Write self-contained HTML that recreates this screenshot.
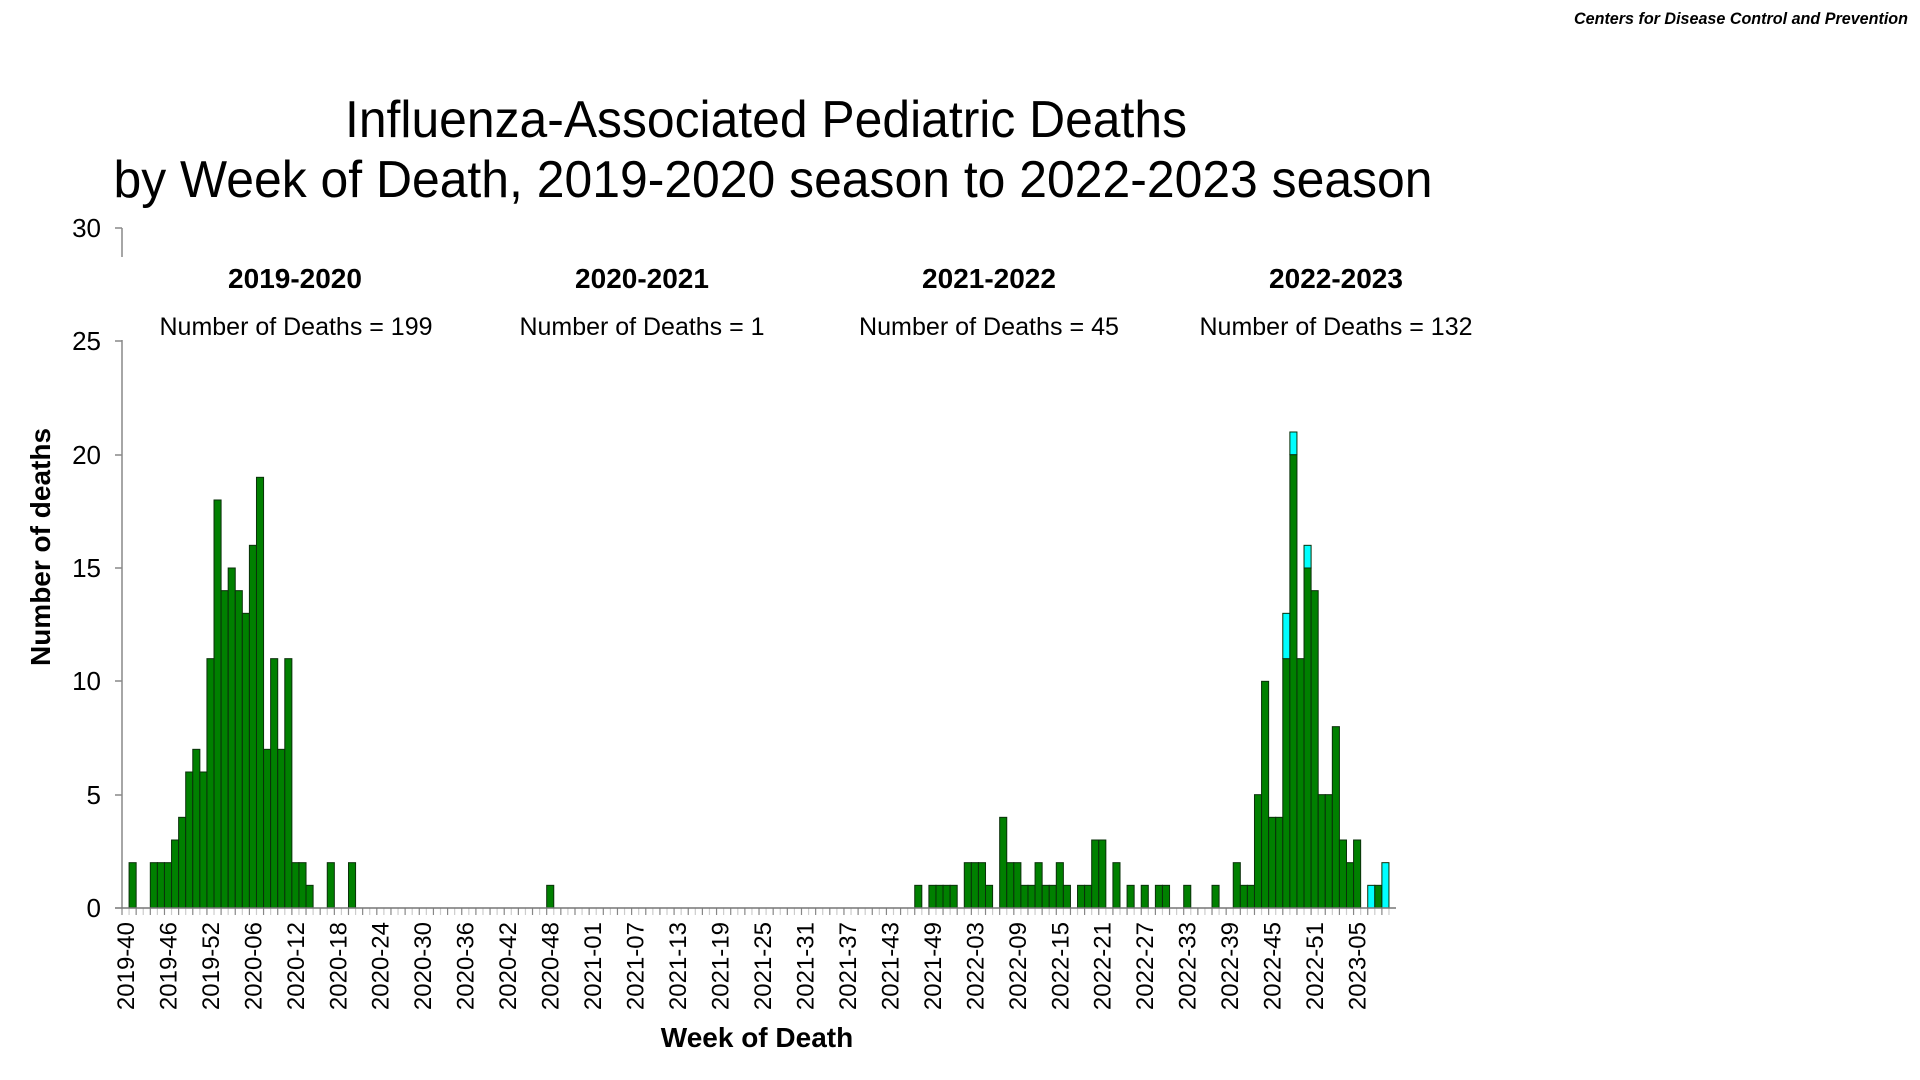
<!DOCTYPE html>
<html><head><meta charset="utf-8"><style>
html,body{margin:0;padding:0;background:#fff;}
svg{display:block;font-family:"Liberation Sans",Arial,sans-serif;}
</style></head><body>
<svg id="s" width="1920" height="1080" viewBox="0 0 1920 1080" xmlns="http://www.w3.org/2000/svg">
<rect width="1920" height="1080" fill="#fff"/>
<text x="1908" y="24" text-anchor="end" font-size="17" font-weight="bold" font-style="italic" textLength="334" lengthAdjust="spacingAndGlyphs">Centers for Disease Control and Prevention</text>
<text x="766" y="137" text-anchor="middle" font-size="52" textLength="842" lengthAdjust="spacingAndGlyphs">Influenza-Associated Pediatric Deaths</text>
<text x="773" y="197" text-anchor="middle" font-size="52" textLength="1319" lengthAdjust="spacingAndGlyphs">by Week of Death, 2019-2020 season to 2022-2023 season</text>
<g font-size="28" font-weight="bold" text-anchor="middle">
<text x="295" y="288">2019-2020</text>
<text x="642" y="288">2020-2021</text>
<text x="989" y="288">2021-2022</text>
<text x="1336" y="288">2022-2023</text>
</g>
<g font-size="25" text-anchor="middle">
<text x="296" y="335" textLength="273" lengthAdjust="spacingAndGlyphs">Number of Deaths = 199</text>
<text x="642" y="335" textLength="245" lengthAdjust="spacingAndGlyphs">Number of Deaths = 1</text>
<text x="989" y="335" textLength="260" lengthAdjust="spacingAndGlyphs">Number of Deaths = 45</text>
<text x="1336" y="335" textLength="273" lengthAdjust="spacingAndGlyphs">Number of Deaths = 132</text>
</g>
<g font-size="26" text-anchor="end">
<text x="101" y="237">30</text>
<text x="101" y="350">25</text>
<text x="101" y="464">20</text>
<text x="101" y="577">15</text>
<text x="101" y="690">10</text>
<text x="101" y="804">5</text>
<text x="101" y="917">0</text>
</g>
<g stroke="#888" stroke-width="1.5">
<line x1="122" y1="228" x2="122" y2="257"/>
<line x1="122" y1="340" x2="122" y2="908"/>
<line x1="115" y1="228" x2="122" y2="228"/>
<line x1="115" y1="341" x2="122" y2="341"/>
<line x1="115" y1="455" x2="122" y2="455"/>
<line x1="115" y1="568" x2="122" y2="568"/>
<line x1="115" y1="681" x2="122" y2="681"/>
<line x1="115" y1="795" x2="122" y2="795"/>
</g>
<g id="bars"></g>
<g id="ticks"></g>
<line x1="115" y1="908" x2="1396" y2="908" stroke="#777" stroke-width="1.5"/>
<g font-size="24" text-anchor="end">
<text transform="translate(125.5,922) rotate(-90)" dy="0.35em">2019-40</text>
<text transform="translate(168.0,922) rotate(-90)" dy="0.35em">2019-46</text>
<text transform="translate(210.5,922) rotate(-90)" dy="0.35em">2019-52</text>
<text transform="translate(252.9,922) rotate(-90)" dy="0.35em">2020-06</text>
<text transform="translate(295.4,922) rotate(-90)" dy="0.35em">2020-12</text>
<text transform="translate(337.9,922) rotate(-90)" dy="0.35em">2020-18</text>
<text transform="translate(380.3,922) rotate(-90)" dy="0.35em">2020-24</text>
<text transform="translate(422.8,922) rotate(-90)" dy="0.35em">2020-30</text>
<text transform="translate(465.3,922) rotate(-90)" dy="0.35em">2020-36</text>
<text transform="translate(507.8,922) rotate(-90)" dy="0.35em">2020-42</text>
<text transform="translate(550.2,922) rotate(-90)" dy="0.35em">2020-48</text>
<text transform="translate(592.7,922) rotate(-90)" dy="0.35em">2021-01</text>
<text transform="translate(635.2,922) rotate(-90)" dy="0.35em">2021-07</text>
<text transform="translate(677.6,922) rotate(-90)" dy="0.35em">2021-13</text>
<text transform="translate(720.1,922) rotate(-90)" dy="0.35em">2021-19</text>
<text transform="translate(762.6,922) rotate(-90)" dy="0.35em">2021-25</text>
<text transform="translate(805.0,922) rotate(-90)" dy="0.35em">2021-31</text>
<text transform="translate(847.5,922) rotate(-90)" dy="0.35em">2021-37</text>
<text transform="translate(890.0,922) rotate(-90)" dy="0.35em">2021-43</text>
<text transform="translate(932.5,922) rotate(-90)" dy="0.35em">2021-49</text>
<text transform="translate(974.9,922) rotate(-90)" dy="0.35em">2022-03</text>
<text transform="translate(1017.4,922) rotate(-90)" dy="0.35em">2022-09</text>
<text transform="translate(1059.9,922) rotate(-90)" dy="0.35em">2022-15</text>
<text transform="translate(1102.3,922) rotate(-90)" dy="0.35em">2022-21</text>
<text transform="translate(1144.8,922) rotate(-90)" dy="0.35em">2022-27</text>
<text transform="translate(1187.3,922) rotate(-90)" dy="0.35em">2022-33</text>
<text transform="translate(1229.7,922) rotate(-90)" dy="0.35em">2022-39</text>
<text transform="translate(1272.2,922) rotate(-90)" dy="0.35em">2022-45</text>
<text transform="translate(1314.7,922) rotate(-90)" dy="0.35em">2022-51</text>
<text transform="translate(1357.1,922) rotate(-90)" dy="0.35em">2023-05</text>
</g>
<text transform="translate(40,547) rotate(-90)" text-anchor="middle" dy="0.35em" font-size="28" font-weight="bold">Number of deaths</text>
<text x="757" y="1047" text-anchor="middle" font-size="28" font-weight="bold">Week of Death</text>
</svg>
<script>
var g={1:2,4:2,5:2,6:2,7:3,8:4,9:6,10:7,11:6,12:11,13:18,14:14,15:15,16:14,17:13,18:16,19:19,20:7,21:11,22:7,23:11,24:2,25:2,26:1,29:2,32:2,60:1,
112:1,114:1,115:1,116:1,117:1,119:2,120:2,121:2,122:1,124:4,125:2,126:2,127:1,128:1,129:2,130:1,131:1,132:2,133:1,135:1,136:1,137:3,138:3,140:2,142:1,144:1,146:1,147:1,150:1,154:1,
157:2,158:1,159:1,160:5,161:10,162:4,163:4,164:11,165:20,166:11,167:15,168:14,169:5,170:5,171:8,172:3,173:2,174:3,177:1};
var c={164:2,165:1,167:1,176:1,178:2};
var W=7.078,U=22.667,B=908,X0=122,ns="http://www.w3.org/2000/svg";
var bars=document.getElementById('bars'),tk=document.getElementById('ticks');
function r(x,y,w,h,f){var e=document.createElementNS(ns,'rect');e.setAttribute('x',x);e.setAttribute('y',y);e.setAttribute('width',w);e.setAttribute('height',h);e.setAttribute('fill',f);e.setAttribute('stroke','#0a300a');e.setAttribute('stroke-width','1');bars.appendChild(e);}
for(var i=0;i<180;i++){var x=X0+i*W,gv=g[i]||0,cv=c[i]||0;
if(gv)r(x,B-gv*U,W,gv*U,'#008000');
if(cv)r(x,B-(gv+cv)*U,W,cv*U,'#00ffff');
var l=document.createElementNS(ns,'line');l.setAttribute('x1',x);l.setAttribute('x2',x);l.setAttribute('y1',B);l.setAttribute('y2',B+7);l.setAttribute('stroke',i%2?'#ccc':'#888');l.setAttribute('stroke-width','1.2');tk.appendChild(l);}
</script>
</body></html>
